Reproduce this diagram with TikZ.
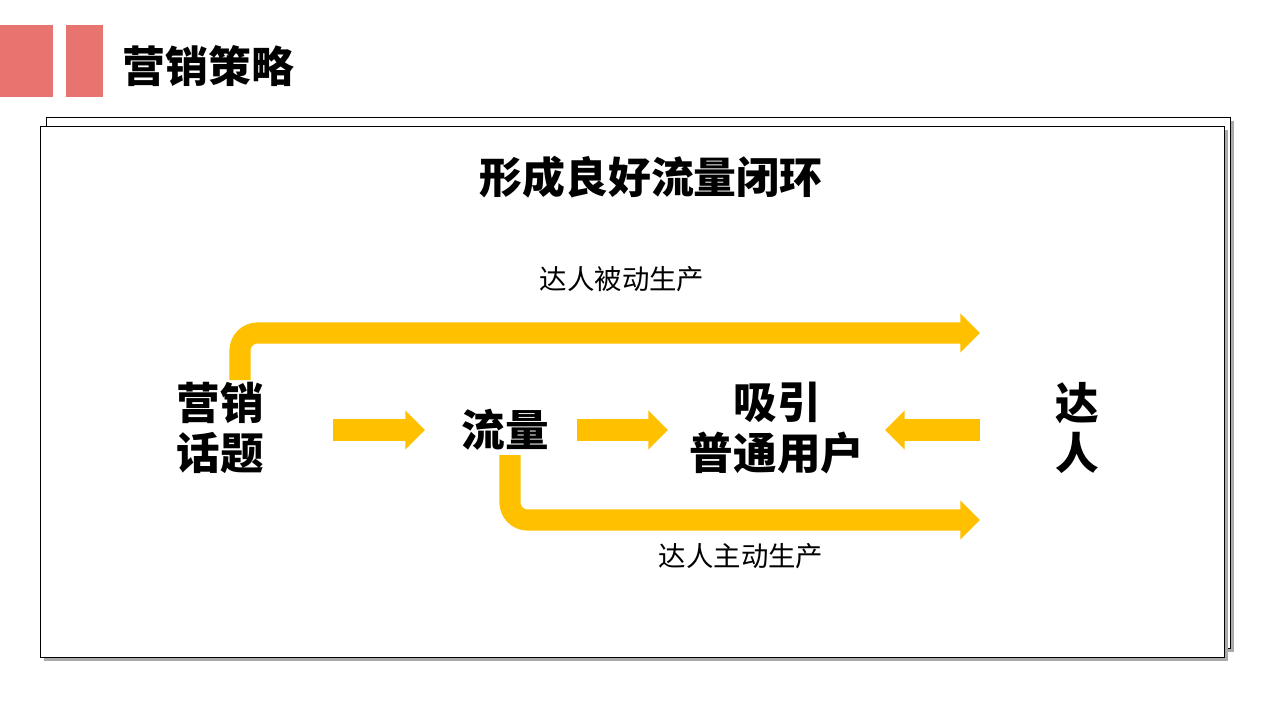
\documentclass[tikz,border=0pt]{standalone}
\usepackage{fontspec}
\usepackage{tikz}
\usetikzlibrary{arrows.meta}
\newfontfamily\cjk{Noto Sans CJK SC}
\definecolor{salesred}{RGB}{232, 116, 112}
\definecolor{flowyellow}{RGB}{255, 192, 0}
\definecolor{frameshadow}{RGB}{170, 170, 170}

\begin{document}
\begin{tikzpicture}[x=0.05cm, y=-0.05cm,
    flow/.style={draw=flowyellow, line width=30pt, rounded corners=25pt,
        -{Triangle[length=28pt, width=54pt]}},
    bigword/.style={font=\cjk\bfseries\fontsize{62}{72}\selectfont, align=center},
    smallword/.style={font=\cjk\fontsize{39}{46}\selectfont}]
    \useasboundingbox (0,0) rectangle (1280,720);
    \fill[white] (0,0) rectangle (1280,720);

    % Title bar
    \fill[salesred] (0,25) rectangle (53,97);
    \fill[salesred] (66,25) rectangle (103,97);
    \node[anchor=west, font=\cjk\bfseries\fontsize{61}{66}\selectfont] (title) at (120,66) {营销策略};

    % Frames
    \fill[frameshadow] (50,121) rectangle (1234,652);
    \draw[fill=white, line width=1pt] (46,117) rectangle (1230,648);
    \fill[frameshadow] (44,130) rectangle (1228,661);
    \draw[fill=white, line width=1pt] (40,126) rectangle (1224,657);
    \node[font=\cjk\bfseries\fontsize{61}{70}\selectfont] (heading) at (651,177) {形成良好流量闭环};

    % Nodes
    \node[bigword] (topic) at (220,428) {营销\\话题};
    \node[bigword] (traffic) at (505,430) {流量};
    \node[bigword] (users) at (777,428) {吸引\\普通用户};
    \node[bigword] (expert) at (1077,428) {达\\人};

    % Straight arrows
    \draw[flow, rounded corners=0pt] (333,430) -- (425,430);
    \draw[flow, rounded corners=0pt] (577,430) -- (668,430);
    \draw[flow, rounded corners=0pt] (980,430) -- (885,430);

    % Loop arrows
    \coordinate (topend) at (980,333);
    \coordinate (botend) at (980,520);
    \draw[flow] (240,380) -- (240,333) -- (topend);
    \draw[flow] (510,455) -- (510,520) -- (botend);
    \node[smallword] (passive) at (622,279) {达人被动生产};
    \node[smallword] (active) at (741,556) {达人主动生产};
\end{tikzpicture}
\end{document}
